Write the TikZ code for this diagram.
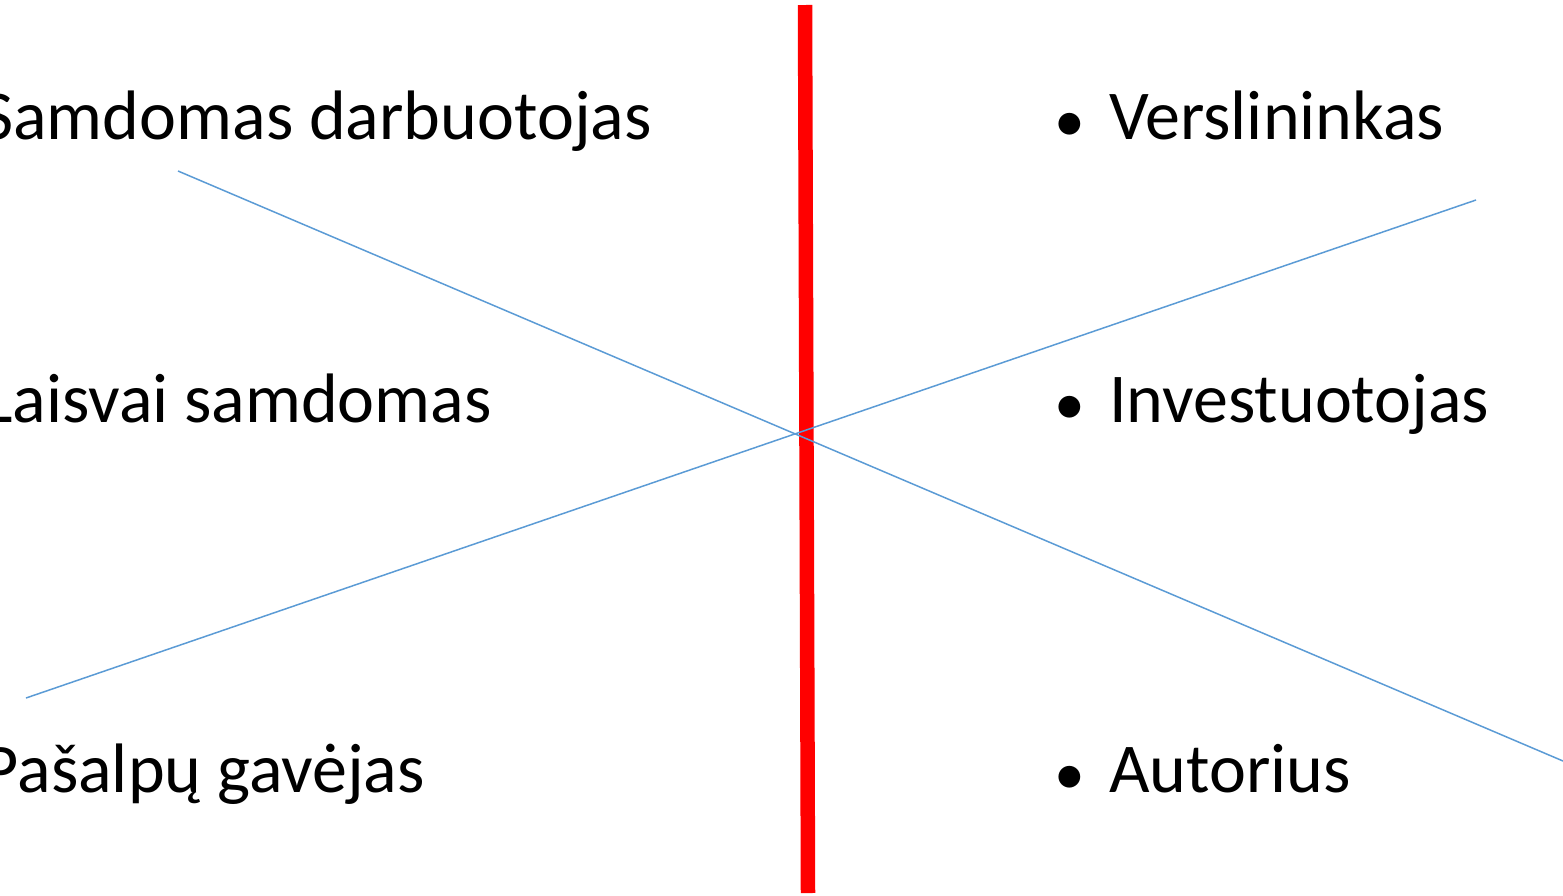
\documentclass[tikz,border=0pt]{standalone}
\usepackage{fontspec}
\setmainfont{Carlito}
\definecolor{officeblue}{RGB}{91,155,213}
\definecolor{pured}{RGB}{255,0,0}
\newcommand{\mybul}{\llap{\raisebox{-2pt}{\scalebox{0.88}{•}}\hspace{24pt}}}
\begin{document}
\begin{tikzpicture}[x=1pt,y=-1pt,
  lbl/.style={inner sep=0pt, font=\fontsize{70}{84}\selectfont, text=black},
  divider/.style={draw=pured, line width=14.5pt},
  cross/.style={draw=officeblue, line width=1.5pt}]
\useasboundingbox (0,0) rectangle (1563,895);
% left column
\node[lbl, anchor=base east] (sd) at (652,139) {Samdomas darbuotojas};
\node[lbl, anchor=base east] (ls) at (492,422) {Laisvai samdomas};
\node[lbl, anchor=base east] (pg) at (425,792) {Pašalpų gavėjas};
% right column
\node[lbl, anchor=base west] (ve) at (1109,139) {\mybul Verslininkas};
\node[lbl, anchor=base west] (in) at (1109,422) {\mybul Investuotojas};
\node[lbl, anchor=base west] (au) at (1109,792) {\mybul Autorius};
% divider
\coordinate (rtop) at (805,5);
\coordinate (rbot) at (808,893);
\draw[divider] (rtop) -- (rbot);
% crossing lines
\coordinate (a1) at (178,171);
\coordinate (a2) at (1563,761);
\coordinate (b1) at (26,698);
\coordinate (b2) at (1476,200);
\draw[cross] (a1) -- (a2);
\draw[cross] (b1) -- (b2);
\end{tikzpicture}
\end{document}
